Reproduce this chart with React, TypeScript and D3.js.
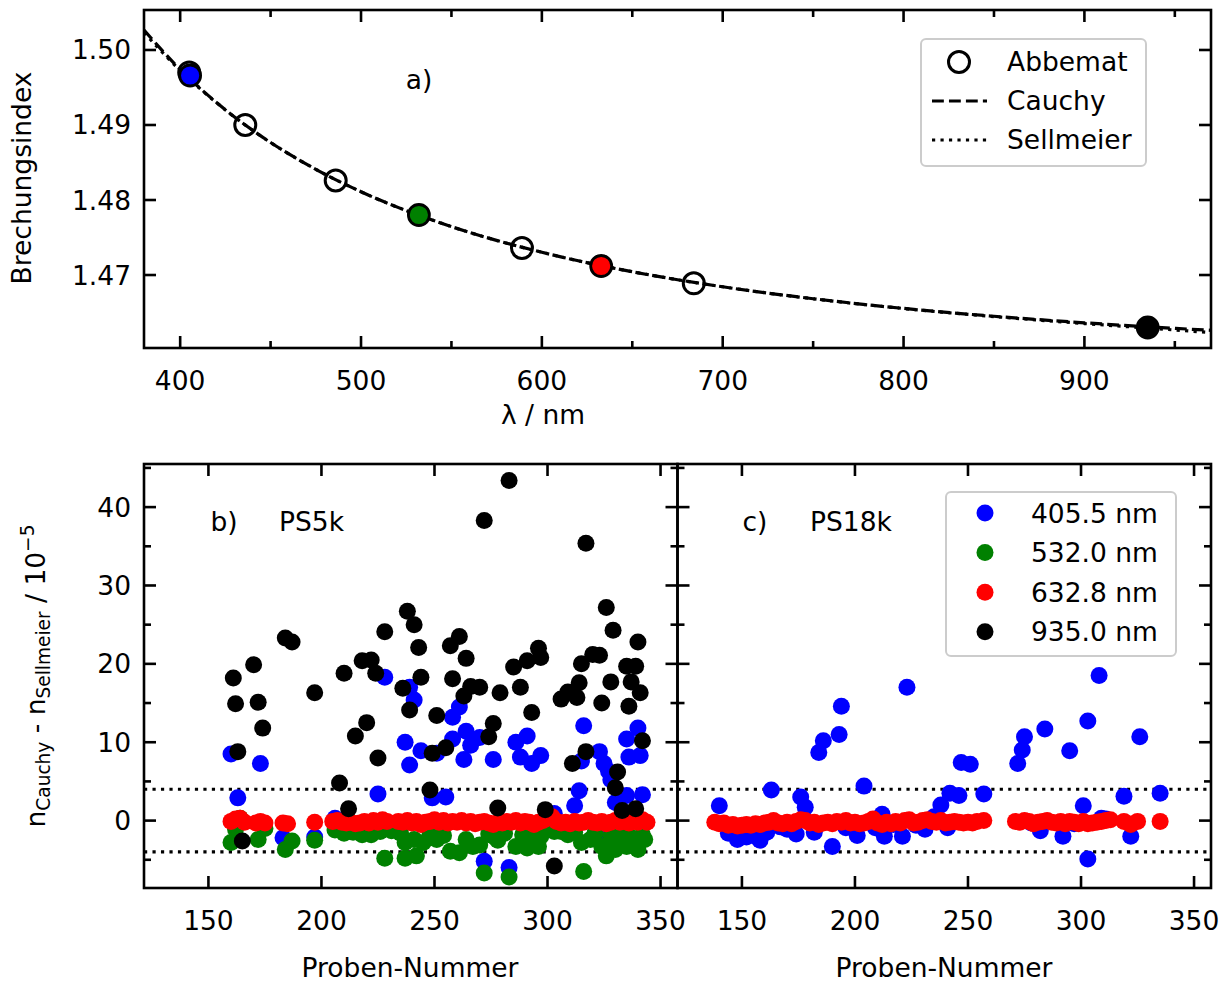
import * as d3 from "d3";

const FONT = "DejaVu Sans, sans-serif";

// panel a) - refractive index vs wavelength
const lambdaCurve = [380, 400, 425, 450, 475, 500, 550, 600, 650, 700, 750, 800, 850, 900, 950, 970];
const nCauchy = [1.50266, 1.4974, 1.49203, 1.48767, 1.48409, 1.4811, 1.47645, 1.47303, 1.47044, 1.46843, 1.46684, 1.46555, 1.4645, 1.46363, 1.46289, 1.46263];
const nSellmeier = [1.50231, 1.49728, 1.49201, 1.48766, 1.48409, 1.4811, 1.47645, 1.47303, 1.47044, 1.46843, 1.46683, 1.46553, 1.46446, 1.46353, 1.46267, 1.46233];

const abbematLambda = [405, 436, 486, 589, 684];
const abbematN = [1.497, 1.49, 1.4826, 1.4736, 1.4689];

const laserLambda = [405.5, 532, 632.8, 935];
const laserN = [1.4966, 1.478, 1.4712, 1.463];
const laserColors = ["#0000ff", "#008000", "#ff0000", "#000000"];
const laserLabels = ["405.5 nm", "532.0 nm", "632.8 nm", "935.0 nm"];

// panel b) PS5k : [Proben-Nummer, n_Cauchy - n_Sellmeier / 1e-5]
const ps5kBlue = [
  [160, 8.5], [163, 2.9], [173, 7.3], [183, -2.2], [197, -2.1], [206, 0.3], [225, 3.4], [228, 18.3],
  [237, 10.0], [239, 17.0], [239, 7.1], [241, 15.4], [244, 8.9], [249, 2.9], [251, 8.6], [255, 3.0],
  [258, 13.2], [258, 10.4], [261, 14.5], [263, 7.8], [264, 11.4], [266, 9.6], [270, 10.6], [272, -5.2],
  [276, 7.8], [283, -6.0], [286, 10.0], [288, 8.1], [291, 10.8], [293, 7.3], [297, 8.3], [300, -1.2],
  [303, 0.9], [312, 1.9], [314, 3.8], [315, 7.6], [316, 12.1], [322, -1.5], [323, 8.8], [325, 7.3],
  [327, 6.3], [328, 5.2], [330, 2.3], [335, 10.4], [335, 3.2], [336, 8.1], [340, 11.8], [341, 8.3], [342, 3.3],
];
const ps5kGreen = [
  [160, -2.8], [162, -1.1], [164, 0.3], [172, -2.4], [175, -1.0], [184, -3.7], [187, -2.6], [197, -2.5],
  [206, -1.2], [210, -1.6], [214, -1.5], [218, -1.8], [222, -1.8], [226, -1.4], [228, -4.8], [231, -1.3],
  [235, -1.6], [237, -2.8], [237, -4.8], [241, -2.4], [242, -4.5], [245, -2.8], [248, -1.5], [251, -2.4],
  [254, -1.9], [257, -3.9], [261, -4.1], [264, -2.4], [267, -3.3], [270, -3.1], [272, -6.7], [274, -1.7],
  [276, -2.0], [278, -2.5], [281, -1.6], [283, -7.2], [286, -3.3], [289, -1.8], [291, -3.5], [294, -1.9],
  [296, -3.3], [297, -2.0], [300, -1.2], [303, -1.4], [306, -1.4], [309, -1.8], [312, -1.5], [315, -2.8],
  [316, -6.5], [319, -2.4], [321, -1.6], [324, -3.3], [326, -4.5], [328, -2.0], [330, -3.7], [332, -1.8],
  [335, -3.3], [337, -2.2], [340, -3.7], [342, -1.8], [343, -2.4],
];
const ps5kRed = [
  [160, -0.1], [162, 0.2], [164, 0.3], [166, -0.2], [171, -0.3], [173, -0.1], [175, -0.3], [183, -0.3],
  [185, -0.4], [197, -0.2], [205, -0.1], [207, 0.0], [209, -0.2], [211, -0.3], [213, -0.2], [215, -0.4],
  [217, -0.3], [219, -0.1], [221, -0.3], [223, 0.0], [225, -0.2], [227, 0.1], [229, -0.1], [234, -0.1],
  [236, -0.2], [238, 0.0], [240, -0.3], [242, -0.1], [244, -0.5], [246, -0.2], [248, -0.1], [250, 0.1],
  [252, -0.2], [254, 0.0], [256, -0.3], [258, -0.1], [260, -0.2], [262, 0.0], [264, -0.3], [266, -0.1],
  [268, -0.4], [270, -0.2], [272, -0.1], [274, -0.3], [276, -0.5], [278, -0.2], [280, -0.3], [282, -0.1],
  [284, -0.2], [286, 0.0], [288, -0.3], [290, -0.1], [292, -0.2], [294, -0.5], [296, -0.2], [298, 0.0],
  [300, 0.3], [302, 0.5], [304, -0.1], [306, -0.3], [308, -0.2], [310, -0.4], [312, -0.1], [314, -0.3],
  [316, -0.2], [318, 0.0], [320, -0.2], [322, -0.3], [324, -0.1], [326, -0.4], [328, -0.2], [330, 0.0],
  [332, -0.2], [334, -0.1], [336, -0.3], [338, -0.1], [340, -0.2], [342, 0.1], [344, -0.2],
];
const ps5kBlack = [
  [161, 18.2], [162, 14.9], [163, 8.8], [165, -2.6], [170, 19.9], [172, 15.1], [174, 11.8], [184, 23.3],
  [187, 22.8], [197, 16.3], [208, 4.8], [210, 18.8], [212, 1.5], [215, 10.8], [218, 20.4], [220, 12.5],
  [222, 20.5], [224, 18.8], [225, 8.0], [228, 24.1], [236, 16.9], [238, 26.7], [239, 14.1], [241, 25.0],
  [243, 22.1], [244, 18.3], [248, 3.9], [249, 8.6], [251, 13.4], [255, 9.3], [257, 22.3], [258, 18.1],
  [261, 23.5], [263, 15.9], [264, 20.7], [266, 17.1], [270, 17.0], [272, 38.3], [274, 10.7], [276, 12.4],
  [278, 1.6], [279, 16.3], [283, 43.4], [285, 19.6], [288, 17.0], [291, 20.4], [293, 13.8], [296, 22.0],
  [297, 20.8], [299, 1.4], [303, -5.8], [306, 15.5], [309, 16.4], [311, 7.3], [313, 15.7], [314, 17.6],
  [315, 20.0], [317, 35.4], [317, 8.8], [320, 21.2], [323, 21.1], [324, 15.0], [326, 27.2], [328, 17.7],
  [329, 24.3], [330, 4.2], [331, 6.2], [333, 1.3], [335, 19.7], [336, 14.6], [337, 17.7], [339, 19.7],
  [339, 1.5], [340, 22.8], [341, 16.3], [342, 10.2],
];

// panel c) PS18k
const ps18kBlue = [
  [140, 1.9], [144, -1.6], [146, -1.2], [148, -2.4], [150, -1.8], [152, -2.1], [155, -1.9], [158, -2.5],
  [161, -1.5], [163, 3.9], [167, -0.8], [170, -1.1], [174, -1.7], [176, 3.0], [178, 1.7], [182, -1.5],
  [184, 8.7], [186, 10.2], [190, -3.3], [193, 11.0], [194, 14.6], [196, -0.9], [199, -0.6], [201, -1.9],
  [204, 4.4], [209, -0.9], [212, 0.8], [213, -2.0], [217, -0.5], [221, -2.0], [223, 17.0], [227, -0.6],
  [231, -1.1], [235, 0.5], [238, 2.0], [241, -0.9], [242, 3.5], [246, 3.2], [247, 7.4], [251, 7.2],
  [257, 3.4], [272, 7.3], [274, 9.0], [275, 10.7], [278, -0.3], [282, -1.3], [284, 11.7], [292, -2.0],
  [295, 8.9], [297, -0.4], [301, 1.9], [303, 12.7], [303, -4.9], [308, 18.5], [309, 0.3], [311, 0.2],
  [319, 3.1], [322, -2.0], [326, 10.7], [335, 3.5],
];
const ps18kRed = [
  [138, -0.2], [140, -0.4], [142, -0.3], [144, -0.6], [146, -0.5], [148, -0.7], [150, -0.6], [152, -0.5],
  [154, -0.6], [156, -0.4], [158, -0.5], [160, -0.3], [162, -0.2], [164, 0.0], [166, -0.3], [168, -0.4],
  [170, -0.2], [172, -0.4], [174, -0.1], [176, 0.1], [178, 0.0], [180, -0.3], [182, -0.2], [184, -0.5],
  [186, -0.3], [188, -0.2], [190, -0.4], [192, -0.1], [194, -0.2], [196, 0.0], [198, -0.3], [200, -0.2],
  [202, -0.4], [204, -0.3], [206, -0.1], [208, 0.2], [210, -0.3], [212, -0.5], [214, -0.2], [216, -0.4],
  [218, -0.1], [220, -0.3], [222, 0.0], [224, 0.1], [226, -0.3], [228, -0.2], [230, 0.0], [232, 0.1],
  [234, -0.1], [236, -0.2], [238, 0.0], [240, -0.3], [242, -0.2], [244, -0.1], [246, -0.2], [248, -0.3],
  [250, -0.2], [252, -0.3], [254, -0.1], [257, 0.0], [271, -0.1], [273, -0.2], [275, 0.0], [277, -0.1],
  [279, -0.4], [281, -0.2], [283, -0.1], [285, 0.0], [287, -0.2], [289, -0.3], [291, -0.1], [293, -0.4],
  [295, -0.1], [297, -0.2], [299, -0.4], [301, -0.1], [303, -0.4], [305, -0.3], [307, -0.2], [309, -0.1],
  [311, 0.0], [313, 0.1], [319, -0.1], [322, -0.5], [325, -0.1], [335, -0.1],
];

const toleranceLines = [4, -4];

const topXTicks = [400, 500, 600, 700, 800, 900];
const topXMinor = [450, 550, 650, 750, 850, 950];
const topYTicks = [1.47, 1.48, 1.49, 1.5];
const botXTicks = [150, 200, 250, 300, 350];
const botYTicks = [0, 10, 20, 30, 40];
const botYMinor = [-5, 5, 15, 25, 35, 45];

const TICK = 12;
const MINOR = 7;
const LW = 2.6;
const CLW = 3.2;
const FS = 26.5;
const R = 8.5;

function Frame({ x, y, xTicks, xMinor = [], yTicks, yMinor = [], xFmt, yFmt, yLabels = true }) {
  const [x0, x1] = x.range();
  const [y0, y1] = y.range();
  return (
    <g>
      {xTicks.map((t) => (
        <g key={"xt" + t}>
          <line x1={x(t)} x2={x(t)} y1={y0} y2={y0 - TICK} stroke="#000" strokeWidth={LW} />
          <line x1={x(t)} x2={x(t)} y1={y1} y2={y1 + TICK} stroke="#000" strokeWidth={LW} />
          <text x={x(t)} y={y0 + 42} textAnchor="middle" fontSize={FS} fontFamily={FONT}>{xFmt(t)}</text>
        </g>
      ))}
      {xMinor.filter((t) => x(t) > x0 && x(t) < x1).map((t) => (
        <g key={"xm" + t}>
          <line x1={x(t)} x2={x(t)} y1={y0} y2={y0 - MINOR} stroke="#000" strokeWidth={LW} />
          <line x1={x(t)} x2={x(t)} y1={y1} y2={y1 + MINOR} stroke="#000" strokeWidth={LW} />
        </g>
      ))}
      {yTicks.map((t) => (
        <g key={"yt" + t}>
          <line x1={x0} x2={x0 + TICK} y1={y(t)} y2={y(t)} stroke="#000" strokeWidth={LW} />
          <line x1={x1} x2={x1 - TICK} y1={y(t)} y2={y(t)} stroke="#000" strokeWidth={LW} />
          {yLabels && (
            <text x={x0 - 13} y={y(t) + 9.5} textAnchor="end" fontSize={FS} fontFamily={FONT}>{yFmt(t)}</text>
          )}
        </g>
      ))}
      {yMinor.filter((t) => y(t) < y0 && y(t) > y1).map((t) => (
        <g key={"ym" + t}>
          <line x1={x0} x2={x0 + MINOR} y1={y(t)} y2={y(t)} stroke="#000" strokeWidth={LW} />
          <line x1={x1} x2={x1 - MINOR} y1={y(t)} y2={y(t)} stroke="#000" strokeWidth={LW} />
        </g>
      ))}
      <rect x={x0} y={y1} width={x1 - x0} height={y0 - y1} fill="none" stroke="#000" strokeWidth={LW} />
    </g>
  );
}

function Dots({ data, x, y, color, r = R }) {
  return (
    <g>
      {data.map((d, i) => (
        <circle key={i} cx={x(d[0])} cy={y(d[1])} r={r} fill={color} />
      ))}
    </g>
  );
}

export default function App() {
  // top panel
  const xTop = d3.scaleLinear().domain([380, 970]).range([144, 1211]);
  const yTop = d3.scaleLinear().domain([1.46027, 1.50533]).range([348, 10]);
  const curve = (vals) =>
    d3.line().x((d) => xTop(d[0])).y((d) => yTop(d[1])).curve(d3.curveMonotoneX)(
      lambdaCurve.map((l, i) => [l, vals[i]])
    );

  // bottom panels
  const xDomain = [121.5, 357.5];
  const xL = d3.scaleLinear().domain(xDomain).range([144, 677.5]);
  const xR = d3.scaleLinear().domain(xDomain).range([677.5, 1211]);
  const yB = d3.scaleLinear().domain([-8.6, 45.5]).range([888, 464]);

  const dashed = `${3.7 * CLW} ${1.6 * CLW}`;
  const dotted = `${CLW} ${1.65 * CLW}`;

  return (
    <svg width={1223} height={983} style={{ position: "absolute", left: 0, top: 0, background: "#fff" }}>
      <defs>
        <clipPath id="clipTop">
          <rect x={144} y={10} width={1067} height={338} />
        </clipPath>
        <clipPath id="clipL">
          <rect x={144} y={464} width={533.5} height={424} />
        </clipPath>
        <clipPath id="clipR">
          <rect x={677.5} y={464} width={533.5} height={424} />
        </clipPath>
      </defs>

      {/* ---------- a) ---------- */}
      <g clipPath="url(#clipTop)">
        <path d={curve(nSellmeier)} fill="none" stroke="#000" strokeWidth={CLW} strokeDasharray={dotted} />
        <path d={curve(nCauchy)} fill="none" stroke="#000" strokeWidth={CLW} strokeDasharray={dashed} />
        {abbematLambda.map((l, i) => (
          <circle key={l} cx={xTop(l)} cy={yTop(abbematN[i])} r={10.5} fill="none" stroke="#000" strokeWidth={3} />
        ))}
        {laserLambda.map((l, i) => (
          <circle key={l} cx={xTop(l)} cy={yTop(laserN[i])} r={10.5} fill={laserColors[i]} stroke="#000" strokeWidth={2.8} />
        ))}
      </g>
      <Frame
        x={xTop}
        y={yTop}
        xTicks={topXTicks}
        xMinor={topXMinor}
        yTicks={topYTicks}
        xFmt={(t) => String(t)}
        yFmt={(t) => t.toFixed(2)}
      />
      <text x={419} y={89} textAnchor="middle" fontSize={FS} fontFamily={FONT}>a)</text>
      <text x={543} y={424} textAnchor="middle" fontSize={FS} fontFamily={FONT}>λ / nm</text>
      <text transform="translate(31,178) rotate(-90)" textAnchor="middle" fontSize={FS} fontFamily={FONT}>Brechungsindex</text>

      {/* legend a) */}
      <rect x={921} y={39} width={225} height={127} rx={5} fill="#fff" stroke="#cccccc" strokeWidth={2} />
      <circle cx={959} cy={62} r={10.5} fill="none" stroke="#000" strokeWidth={3} />
      <line x1={932} x2={987} y1={101} y2={101} stroke="#000" strokeWidth={CLW} strokeDasharray={dashed} />
      <line x1={932} x2={987} y1={140} y2={140} stroke="#000" strokeWidth={CLW} strokeDasharray={dotted} />
      <text x={1007} y={71} fontSize={FS} fontFamily={FONT}>Abbemat</text>
      <text x={1007} y={110} fontSize={FS} fontFamily={FONT}>Cauchy</text>
      <text x={1007} y={149} fontSize={FS} fontFamily={FONT}>Sellmeier</text>

      {/* ---------- b) ---------- */}
      <g clipPath="url(#clipL)">
        {toleranceLines.map((v) => (
          <line key={v} x1={144} x2={677.5} y1={yB(v)} y2={yB(v)} stroke="#000" strokeWidth={CLW} strokeDasharray={dotted} />
        ))}
        <Dots data={ps5kBlue} x={xL} y={yB} color={laserColors[0]} />
        <Dots data={ps5kGreen} x={xL} y={yB} color={laserColors[1]} />
        <Dots data={ps5kRed} x={xL} y={yB} color={laserColors[2]} />
        <Dots data={ps5kBlack} x={xL} y={yB} color={laserColors[3]} />
      </g>
      <Frame
        x={xL}
        y={yB}
        xTicks={botXTicks}
        yTicks={botYTicks}
        yMinor={botYMinor}
        xFmt={(t) => String(t)}
        yFmt={(t) => String(t)}
      />
      <text x={224} y={531} textAnchor="middle" fontSize={FS} fontFamily={FONT}>b)</text>
      <text x={279} y={531} fontSize={FS} fontFamily={FONT}>PS5k</text>
      <text x={410} y={977} textAnchor="middle" fontSize={FS} fontFamily={FONT}>Proben-Nummer</text>

      {/* ---------- c) ---------- */}
      <g clipPath="url(#clipR)">
        {toleranceLines.map((v) => (
          <line key={v} x1={677.5} x2={1211} y1={yB(v)} y2={yB(v)} stroke="#000" strokeWidth={CLW} strokeDasharray={dotted} />
        ))}
        <Dots data={ps18kBlue} x={xR} y={yB} color={laserColors[0]} />
        <Dots data={ps18kRed} x={xR} y={yB} color={laserColors[2]} />
      </g>
      <Frame
        x={xR}
        y={yB}
        xTicks={botXTicks}
        yTicks={botYTicks}
        yMinor={botYMinor}
        xFmt={(t) => String(t)}
        yFmt={(t) => String(t)}
        yLabels={false}
      />
      <text x={755} y={531} textAnchor="middle" fontSize={FS} fontFamily={FONT}>c)</text>
      <text x={810} y={531} fontSize={FS} fontFamily={FONT}>PS18k</text>
      <text x={944} y={977} textAnchor="middle" fontSize={FS} fontFamily={FONT}>Proben-Nummer</text>

      {/* legend c) */}
      <rect x={946} y={492} width={230} height={164} rx={5} fill="#fff" stroke="#cccccc" strokeWidth={2} />
      {laserLabels.map((lab, i) => (
        <g key={lab}>
          <circle cx={985} cy={513 + i * 39.6} r={R} fill={laserColors[i]} />
          <text x={1031} y={522.5 + i * 39.6} fontSize={FS} fontFamily={FONT}>{lab}</text>
        </g>
      ))}

      {/* shared y label */}
      <text transform="translate(45,676) rotate(-90)" textAnchor="middle" fontSize={FS} fontFamily={FONT}>
        n<tspan fontSize={FS * 0.7} dy={5}>Cauchy</tspan>
        <tspan dy={-5}> - n</tspan>
        <tspan fontSize={FS * 0.7} dy={5}>Sellmeier</tspan>
        <tspan dy={-5}> / 10</tspan>
        <tspan fontSize={FS * 0.7} dy={-11}>−5</tspan>
      </text>
    </svg>
  );
}
